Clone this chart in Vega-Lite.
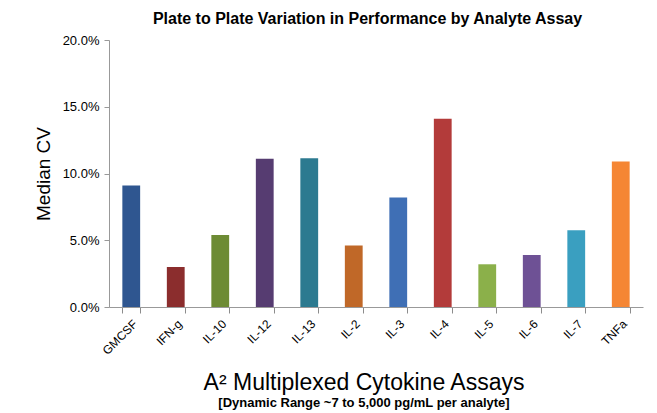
{
  "$schema": "https://vega.github.io/schema/vega-lite/v6.json",
  "width": 534,
  "height": 267,
  "autosize": {"type": "none"},
  "padding": {"left": 109, "top": 40, "right": 14, "bottom": 106},
  "background": "white",
  "config": {
    "font": "Liberation Sans",
    "view": {"stroke": null},
    "axisBand": {"ticks": true, "tickBand": "extent", "tickExtra": true, "tickColor": "#8c8c8c", "tickSize": 6}
  },
  "title": {
    "text": "A² Multiplexed Cytokine Assays",
    "subtitle": "[Dynamic Range ~7 to 5,000 pg/mL per analyte]",
    "orient": "bottom",
    "anchor": "middle",
    "fontSize": 23,
    "fontWeight": "normal",
    "color": "#000000",
    "subtitleFontSize": 13,
    "subtitleFontWeight": "bold",
    "subtitleColor": "#000000",
    "offset": 16,
    "dx": -12,
    "subtitlePadding": 2
  },
  "data": {
    "values": [
      {"assay": "GMCSF", "cv": 0.091},
      {"assay": "IFN-g", "cv": 0.030},
      {"assay": "IL-10", "cv": 0.054},
      {"assay": "IL-12", "cv": 0.111},
      {"assay": "IL-13", "cv": 0.1115},
      {"assay": "IL-2", "cv": 0.046},
      {"assay": "IL-3", "cv": 0.082},
      {"assay": "IL-4", "cv": 0.141},
      {"assay": "IL-5", "cv": 0.032},
      {"assay": "IL-6", "cv": 0.039},
      {"assay": "IL-7", "cv": 0.0575},
      {"assay": "TNFa", "cv": 0.109}
    ]
  },
  "layer": [
    {
      "mark": {"type": "bar"},
      "encoding": {
        "x": {
          "field": "assay",
          "type": "nominal",
          "sort": null,
          "scale": {"paddingInner": 0.6, "paddingOuter": 0.3},
          "axis": {
            "orient": "bottom",
            "title": null,
            "labelAngle": -45,
            "labelFontSize": 12,
            "labelColor": "#000000",
            "ticks": true,
            "tickBand": "extent",
            "tickExtra": true,
            "domainColor": "#999999",
            "tickColor": "#8c8c8c",
            "tickWidth": 1,
            "tickSize": 6,
            "labelPadding": 5
          }
        },
        "y": {
          "field": "cv",
          "type": "quantitative",
          "scale": {"domain": [0, 0.2]},
          "axis": {
            "values": [0, 0.05, 0.1, 0.15, 0.2],
            "format": ".1%",
            "title": "Median CV",
            "titleFontSize": 19,
            "titleFontWeight": "normal",
            "titleColor": "#000000",
            "titlePadding": 9,
            "grid": false,
            "domainColor": "#999999",
            "tickColor": "#999999",
            "tickSize": 5,
            "labelFontSize": 13,
            "labelColor": "#000000",
            "labelPadding": 5
          }
        },
        "color": {
          "field": "assay",
          "type": "nominal",
          "scale": {
            "domain": ["GMCSF", "IFN-g", "IL-10", "IL-12", "IL-13", "IL-2", "IL-3", "IL-4", "IL-5", "IL-6", "IL-7", "TNFa"],
            "range": ["#2F5690", "#8B2D2D", "#6D8B34", "#563C71", "#2C7A90", "#C06828", "#3F6FB5", "#B33B3A", "#8BB04A", "#6E5195", "#3A9FC0", "#F58634"]
          },
          "legend": null
        }
      }
    },
    {
      "mark": {"type": "bar", "opacity": 0},
      "encoding": {
        "x": {
          "field": "assay",
          "type": "nominal",
          "sort": null,
          "axis": {
            "orient": "top",
            "labels": false,
            "tickOpacity": 0,
            "domainOpacity": 0,
            "title": "Plate to Plate Variation in Performance by Analyte Assay",
            "titleFontSize": 16,
            "titleFontWeight": "bold",
            "titleColor": "#000000",
            "titlePadding": 8,
            "titleX": 258
          }
        },
        "y": {"field": "cv", "type": "quantitative"}
      }
    }
  ],
  "resolve": {"axis": {"x": "independent"}}
}
